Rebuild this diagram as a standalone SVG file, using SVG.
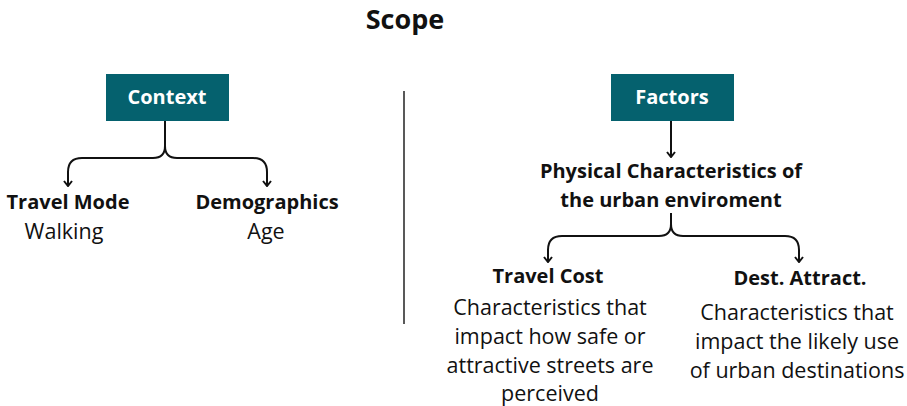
<svg xmlns="http://www.w3.org/2000/svg" width="907" height="406" viewBox="0 0 907 406">
<style>
text{font-family:"Open Sans","Liberation Sans",sans-serif;fill:#111;text-anchor:middle}
.t{font-size:27px;font-weight:bold}
.b{font-size:20px;font-weight:bold}
.r{font-size:21.5px}
.bx{fill:#05616e}
.bt{fill:#fff;font-size:20px;font-weight:bold}
.c{fill:none;stroke:#111;stroke-width:2}
</style>
<defs>
<marker id="ah" viewBox="0 0 10 10" refX="9" refY="5" markerWidth="10" markerHeight="10" markerUnits="userSpaceOnUse" orient="auto">
<path d="M4,1 L9,5 L4,9" fill="none" stroke="#111" stroke-width="2"/>
</marker>
</defs>
<rect width="907" height="406" fill="#fff"/>
<text class="t" x="405" y="29">Scope</text>
<line x1="404" y1="91" x2="404" y2="324" stroke="#222" stroke-width="1.5"/>
<g id="context"><rect class="bx" x="106" y="74" width="123" height="47"/><text class="bt" x="167" y="104">Context</text></g>
<g id="factors"><rect class="bx" x="611" y="74" width="123" height="47"/><text class="bt" x="672" y="104">Factors</text></g>
<g id="travelmode"><text class="b" x="68" y="209">Travel Mode</text><text class="r" x="64" y="239">Walking</text></g>
<g id="demographics"><text class="b" x="267" y="209">Demographics</text><text class="r" x="266" y="239">Age</text></g>
<g id="physical"><text class="b" x="671" y="178">Physical Characteristics of</text><text class="b" x="671" y="207">the urban enviroment</text></g>
<g id="travelcost"><text class="b" x="548" y="283">Travel Cost</text>
<text class="r"><tspan x="550" y="315">Characteristics that</tspan><tspan x="550" y="344">impact how safe or</tspan><tspan x="550" y="373">attractive streets are</tspan><tspan x="550" y="401">perceived</tspan></text></g>
<g id="destattract"><text class="b" x="800" y="285">Dest. Attract.</text>
<text class="r"><tspan x="797" y="320">Characteristics that</tspan><tspan x="797" y="349">impact the likely use</tspan><tspan x="797" y="378">of urban destinations</tspan></text></g>
<g id="connectors">
<path class="c" d="M165,121 V146 Q165,158 153,158 H82 Q68,158 68,172 V186" marker-end="url(#ah)"/>
<path class="c" d="M165,146 Q165,158 177,158 H253 Q267,158 267,172 V186" marker-end="url(#ah)"/>
<path class="c" d="M671,121 V157" marker-end="url(#ah)"/>
<path class="c" d="M671,213 V224 Q671,236 659,236 H562 Q548,236 548,250 V262" marker-end="url(#ah)"/>
<path class="c" d="M671,224 Q671,236 683,236 H785 Q799,236 799,250 V262" marker-end="url(#ah)"/>
</g>
</svg>
